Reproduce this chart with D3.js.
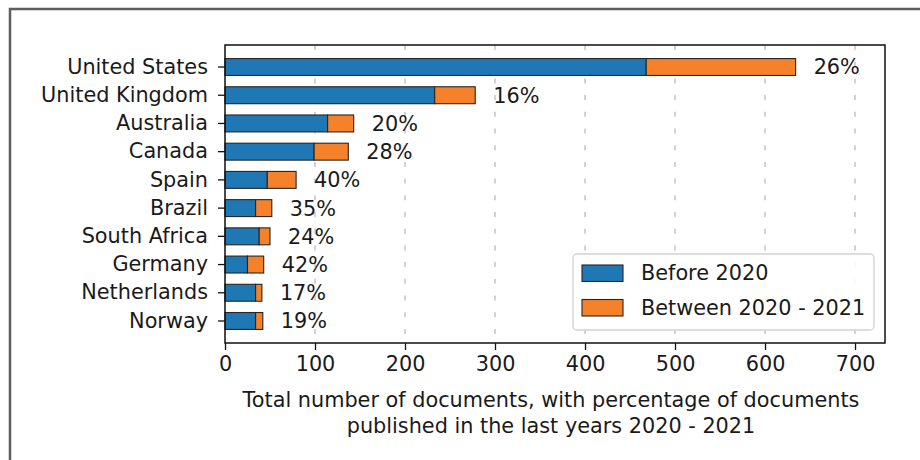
<!DOCTYPE html>
<html>
<head>
<meta charset="utf-8">
<script src="https://cdn.jsdelivr.net/npm/d3@7"></script>
<style>
  html, body { margin: 0; padding: 0; background: #fff; }
  svg { display: block; font-family: "DejaVu Sans", sans-serif; }
</style>
</head>
<body>
<svg id="chart" width="920" height="460"></svg>
<script>
const countries = ["United States", "United Kingdom", "Australia", "Canada", "Spain",
                   "Brazil", "South Africa", "Germany", "Netherlands", "Norway"];
const before2020 = [468, 233, 114, 99, 47, 34, 38, 25, 34, 34];
const between2020_2021 = [166, 45, 29, 38, 32, 18, 12, 18, 7, 8];
const pctLabels = ["26%", "16%", "20%", "28%", "40%", "35%", "24%", "42%", "17%", "19%"];
const xTicks = [0, 100, 200, 300, 400, 500, 600, 700];
const seriesNames = ["Before 2020", "Between 2020 - 2021"];
const seriesColors = ["#1f77b4", "#f5822a"];
const xLabelLines = ["Total number of documents, with percentage of documents",
                     "published in the last years 2020 - 2021"];

const svg = d3.select("#chart");
const FS = 20.8;
const m = { left: 225, right: 885, top: 45, bottom: 343 };

// outer frame
svg.append("rect")
  .attr("x", 10).attr("y", 9).attr("width", 1200).attr("height", 1200)
  .attr("fill", "none").attr("stroke", "#5e5e5e").attr("stroke-width", 2.5);

const x = d3.scaleLinear().domain([0, 733.3]).range([m.left, m.right]);
const y = d3.scaleBand().domain(countries).range([m.top, m.bottom])
  .paddingInner(0.4).paddingOuter(0.48);

// grid
svg.append("g").selectAll("line").data(xTicks.slice(1)).join("line")
  .attr("x1", d => x(d)).attr("x2", d => x(d))
  .attr("y1", m.top).attr("y2", m.bottom)
  .attr("stroke", "#c4c4c4").attr("stroke-width", 1.5)
  .attr("stroke-dasharray", "5,11.7");

const data = countries.map((c, i) => ({
  c, b: before2020[i], a: between2020_2021[i], label: pctLabels[i]
}));

const gb = svg.append("g");
gb.selectAll("rect.b").data(data).join("rect").attr("class", "b")
  .attr("x", x(0)).attr("y", d => y(d.c))
  .attr("width", d => x(d.b) - x(0)).attr("height", y.bandwidth())
  .attr("fill", seriesColors[0]).attr("stroke", "#262626").attr("stroke-width", 1.1);
gb.selectAll("rect.a").data(data).join("rect").attr("class", "a")
  .attr("x", d => x(d.b)).attr("y", d => y(d.c))
  .attr("width", d => x(d.b + d.a) - x(d.b)).attr("height", y.bandwidth())
  .attr("fill", seriesColors[1]).attr("stroke", "#262626").attr("stroke-width", 1.1);

// percentage labels
svg.append("g").selectAll("text").data(data).join("text")
  .attr("x", d => x(d.b + d.a + 20))
  .attr("y", d => y(d.c) + y.bandwidth() / 2)
  .attr("dy", "0.36em")
  .attr("font-size", FS).attr("fill", "#1a1a1a")
  .text(d => d.label);

// axes
const xAxis = d3.axisBottom(x).tickValues(xTicks).tickSize(7).tickSizeOuter(0).tickPadding(6);
const gx = svg.append("g").attr("transform", `translate(0,${m.bottom})`).call(xAxis);
gx.select(".domain").remove();
gx.selectAll(".tick line").attr("stroke", "#111").attr("stroke-width", 1.3);
gx.selectAll(".tick text").attr("font-size", FS).attr("font-family", "DejaVu Sans").attr("fill", "#1a1a1a");

const yAxis = d3.axisLeft(y).tickSize(7).tickSizeOuter(0).tickPadding(10);
const gy = svg.append("g").attr("transform", `translate(${m.left},0)`).call(yAxis);
gy.select(".domain").remove();
gy.selectAll(".tick line").attr("stroke", "#111").attr("stroke-width", 1.3);
gy.selectAll(".tick text").attr("font-size", FS).attr("font-family", "DejaVu Sans").attr("fill", "#1a1a1a");

// axes frame
svg.append("rect")
  .attr("x", m.left).attr("y", m.top)
  .attr("width", m.right - m.left).attr("height", m.bottom - m.top)
  .attr("fill", "none").attr("stroke", "#111").attr("stroke-width", 1.5);

// x label
const xl = svg.append("text").attr("font-size", FS).attr("fill", "#1a1a1a")
  .attr("text-anchor", "middle");
xl.selectAll("tspan").data(xLabelLines).join("tspan")
  .attr("x", 551)
  .attr("y", (d, i) => 407 + i * 26)
  .text(d => d);

// legend
const lg = svg.append("g");
lg.append("rect").attr("x", 573).attr("y", 254).attr("width", 301).attr("height", 76)
  .attr("rx", 4).attr("fill", "#fff").attr("fill-opacity", 0.85)
  .attr("stroke", "#d2d2d2").attr("stroke-width", 1.3);
const items = lg.selectAll("g.item").data(seriesNames).join("g").attr("class", "item")
  .attr("transform", (d, i) => `translate(0,${265 + i * 34.5})`);
items.append("rect").attr("x", 582).attr("y", 0).attr("width", 41).attr("height", 16.5)
  .attr("fill", (d, i) => seriesColors[i]).attr("stroke", "#262626").attr("stroke-width", 1.1);
items.append("text").attr("x", 641).attr("y", 15)
  .attr("font-size", FS).attr("fill", "#1a1a1a").text(d => d);
</script>
</body>
</html>
